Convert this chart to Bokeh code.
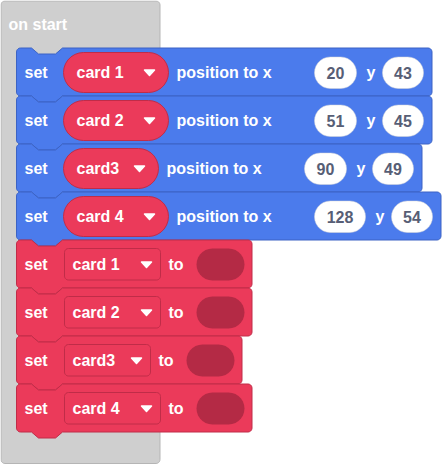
import numpy as np
from bokeh.plotting import figure
from bokeh.models import Range1d
from bokeh.core.properties import value
from bokeh.embed import file_html
from bokeh.resources import INLINE

# "set <card> position to x .. y .." blocks
pos_cards = ["card 1", "card 2", "card3", "card 4"]
pos_x = [20, 51, 90, 128]
pos_y = [43, 45, 49, 54]
# "set <card> to ( )" blocks
set_cards = ["card 1", "card 2", "card3", "card 4"]

# layout (pixel sizes of the variable / number fields)
var_pill_w = [105, 105, 95, 105]
x_pill_w = [42, 42, 42, 51]
y_pill_w = 41
drop_w = [96, 96, 86, 96]

BLUE = "#4b7bec"
BLUE_EDGE = "#3c63c4"
RED = "#eb3a5a"
RED_EDGE = "#c02c48"
SLOT = "#b42a45"
GREY = "#cfcfcf"
GREY_EDGE = "#b5b5b5"
NUM_TXT = "#575e75"
FONT = value("Liberation Sans")


def arc(cx, cy, r, a0, a1, n=8):
    a = np.radians(np.linspace(a0, a1, n))
    return list(cx + r * np.cos(a)), list(cy + r * np.sin(a))


def rounded(x0, y0, x1, y1, r):
    xs, ys = [], []
    for cx, cy, a0, a1 in [(x0 + r, y0 + r, 180, 270), (x1 - r, y0 + r, 270, 360),
                           (x1 - r, y1 - r, 0, 90), (x0 + r, y1 - r, 90, 180)]:
        ax, ay = arc(cx, cy, r, a0, a1)
        xs += ax
        ys += ay
    return xs, ys


def block(x0, y0, x1, y1, r=4):
    xs, ys = [], []
    ax, ay = arc(x0 + r, y0 + r, r, 180, 270)
    xs += ax; ys += ay
    xs += [31, 38, 55, 62]; ys += [y0, y0 + 6, y0 + 6, y0]
    ax, ay = arc(x1 - r, y0 + r, r, 270, 360)
    xs += ax; ys += ay
    ax, ay = arc(x1 - r, y1 - r, r, 0, 90)
    xs += ax; ys += ay
    xs += [62, 55, 38, 31]; ys += [y1, y1 + 6, y1 + 6, y1]
    ax, ay = arc(x0 + r, y1 - r, r, 90, 180)
    xs += ax; ys += ay
    return xs, ys


def arrow(cx, cy):
    return [cx - 5, cx + 5, cx], [cy - 2.5, cy - 2.5, cy + 3]


p = figure(width=442, height=464, x_range=Range1d(0, 442), y_range=Range1d(464, 0),
           output_backend="svg", toolbar_location=None, min_border=0,
           x_axis_location=None, y_axis_location=None)
p.grid.visible = False
p.outline_line_color = None
p.background_fill_color = "white"
p.styles = {"margin": "0px"}

# on start hat
gx, gy = rounded(0.5, 0.5, 159.5, 463, 4)
p.patch(gx, gy, fill_color=GREY, line_color=GREY_EDGE, line_width=1)

white_t = {"x": [8], "y": [24], "t": ["on start"]}
num_t = {"x": [], "y": [], "t": []}

# blue position blocks
for i, card in enumerate(pos_cards):
    t = 47.5 + 48 * i
    vr = 63 + var_pill_w[i]
    xl = vr + 146
    xr = xl + x_pill_w[i]
    yl = xr + 26
    yr = yl + y_pill_w
    bx, by = block(16, t, yr + 8.5, t + 48)
    p.patch(bx, by, fill_color=BLUE, line_color=BLUE_EDGE, line_width=1)
    px, py = rounded(63, t + 4.5, vr, t + 44.5, 20)
    p.patch(px, py, fill_color=RED, line_color=RED_EDGE, line_width=1)
    ax, ay = arrow(vr - 19, t + 24.5)
    p.patch(ax, ay, fill_color="white", line_color="white", line_width=1.5, line_join="round")
    for a, b in [(xl, xr), (yl, yr)]:
        wx, wy = rounded(a, t + 9, b, t + 40.5, 15.75)
        p.patch(wx, wy, fill_color="white", line_color="#d6d6d6", line_width=0.5)
    white_t["x"] += [24, 76, vr + 8, xr + 10]
    white_t["y"] += [t + 24.5] * 4
    white_t["t"] += ["set", card, "position to x", "y"]
    num_t["x"] += [(xl + xr) / 2, (yl + yr) / 2]
    num_t["y"] += [t + 25, t + 25]
    num_t["t"] += [str(pos_x[i]), str(pos_y[i])]

# red set blocks
for j, card in enumerate(set_cards):
    t = 239.5 + 48 * j
    dr = 64 + drop_w[j]
    sl = dr + 36
    sr = sl + 48
    bx, by = block(16, t, sr + 7.5, t + 48)
    p.patch(bx, by, fill_color=RED, line_color=RED_EDGE, line_width=1)
    dx, dy = rounded(64, t + 8.5, dr, t + 40, 4)
    p.patch(dx, dy, fill_color=RED, line_color=RED_EDGE, line_width=1)
    ax, ay = arrow(dr - 14, t + 24.5)
    p.patch(ax, ay, fill_color="white", line_color="white", line_width=1.5, line_join="round")
    sx, sy = rounded(sl, t + 8.5, sr, t + 40.5, 16)
    p.patch(sx, sy, fill_color=SLOT, line_color=None)
    white_t["x"] += [24, 72, dr + 8]
    white_t["y"] += [t + 24.5] * 3
    white_t["t"] += ["set", card, "to"]

p.text(x=white_t["x"], y=white_t["y"], text=white_t["t"], text_color="white",
       text_font=FONT, text_font_style="bold", text_font_size="16px",
       text_baseline="middle", text_align="left")
p.text(x=num_t["x"], y=num_t["y"], text=num_t["t"], text_color=NUM_TXT,
       text_font=FONT, text_font_style="bold", text_font_size="16px",
       text_baseline="middle", text_align="center")

open("out.html", "w").write(file_html(p, INLINE))
